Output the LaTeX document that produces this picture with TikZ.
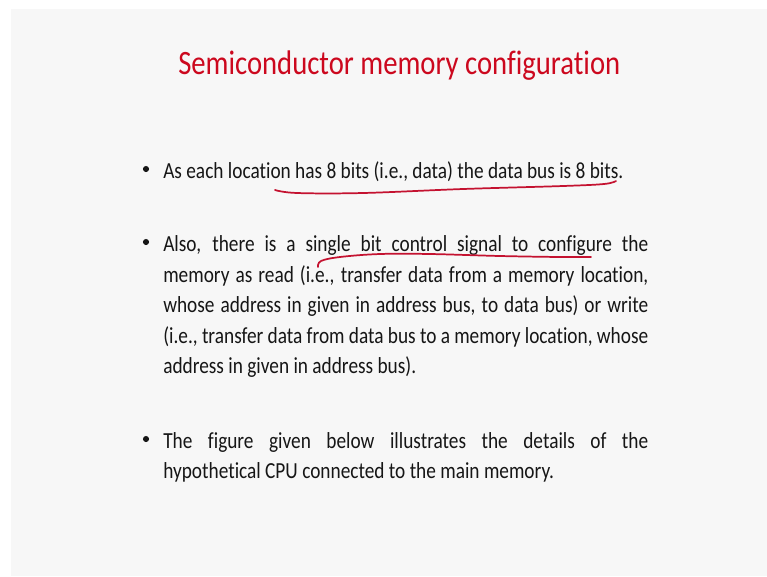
\documentclass[tikz,border=0pt]{standalone}
\usepackage{fontspec}
\setmainfont{Carlito}[FakeStretch=0.84, Ligatures=NoCommon]
\definecolor{slidebg}{RGB}{247,247,247}
\definecolor{titlered}{RGB}{204,8,30}
\definecolor{penred}{RGB}{196,18,48}
\definecolor{bodyink}{RGB}{22,22,22}
\tikzset{
  titletext/.style={anchor=base west, inner sep=0pt, text=titlered, font=\fontsize{25.6pt}{30pt}\selectfont},
  bodyline/.style={anchor=base west, inner sep=0pt, text=bodyink, font=\fontsize{17.25pt}{23pt}\selectfont},
  bulletdot/.style={circle, fill=bodyink, inner sep=0pt, minimum size=4.6pt},
  penstroke/.style={draw=penred, line width=1.3pt, line cap=round, line join=round}
}
% full justified line of the body paragraphs
\newcommand{\jline}[1]{\makebox[363.75pt][s]{#1}}
\begin{document}
\begin{tikzpicture}[x=0.75pt, y=-0.75pt]
  \useasboundingbox (0,0) rectangle (767,576);
  \fill[white] (0,0) rectangle (767,576);
  \fill[slidebg] (11,9) rectangle (767,576);

  % title
  \node[titletext] (title) at (178,74) {Semiconductor memory configuration};

  % first bullet
  \node[bulletdot] (b1) at (146,169) {};
  \node[bodyline] (p1) at (163,178) {As each location has 8 bits (i.e., data) the data bus is 8 bits.};

  % second bullet
  \node[bulletdot] (b2) at (146,242) {};
  \node[bodyline] (p2a) at (163,251) {\jline{Also, there is a single bit control signal to configure the}};
  \node[bodyline] (p2b) at (163,282) {\jline{memory as read (i.e., transfer data from a memory location,}};
  \node[bodyline] (p2c) at (163,312) {\jline{whose address in given in address bus, to data bus) or write}};
  \node[bodyline] (p2d) at (163,343) {\jline{(i.e., transfer data from data bus to a memory location, whose}};
  \node[bodyline] (p2e) at (163,373) {address in given in address bus).};

  % third bullet
  \node[bulletdot] (b3) at (146,439) {};
  \node[bodyline] (p3a) at (163,448) {\jline{The figure given below illustrates the details of the}};
  \node[bodyline] (p3b) at (163,478) {hypothetical CPU connected to the main memory.};

  % hand-drawn underlines
  \draw[penstroke] plot[smooth, tension=0.6] coordinates
    {(275,190) (297,193) (363,193) (463,189) (563,186) (604,184) (616,181)};
  \draw[penstroke] plot[smooth, tension=0.6] coordinates
    {(318,267) (321,261) (340,257) (380,254) (430,254) (500,256) (560,257) (591,257)};
\end{tikzpicture}
\end{document}
